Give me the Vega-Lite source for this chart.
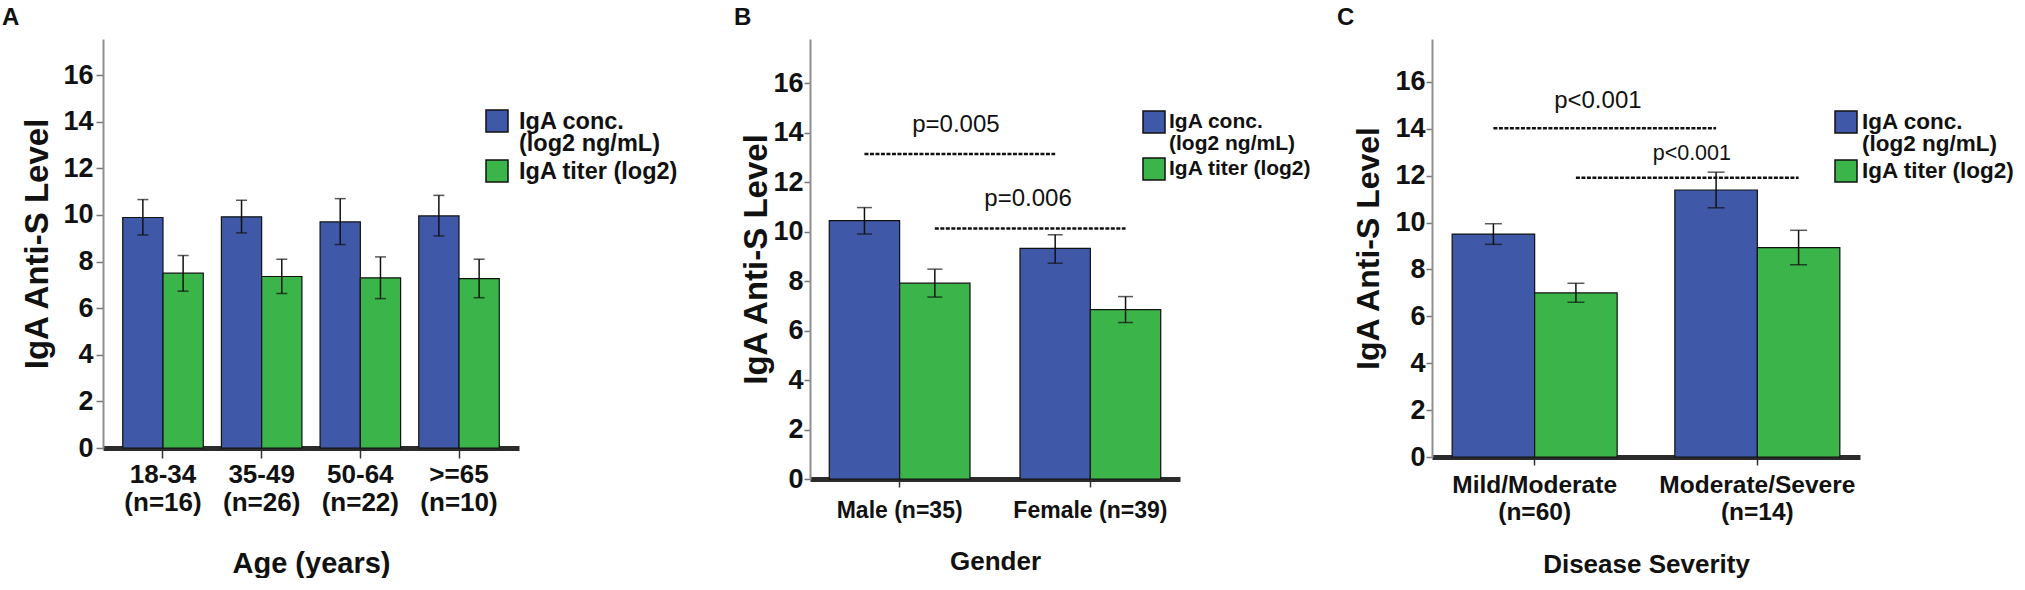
{
  "$schema": "https://vega.github.io/schema/vega-lite/v6.json",
  "background": "white",
  "padding": {"left": 2, "top": 6, "right": 0, "bottom": 0},
  "bounds": "flush",
  "spacing": 252,
  "resolve": {"scale": {"color": "independent", "x": "independent", "y": "independent", "xOffset": "independent"}, "legend": {"color": "independent"}},
  "config": {
    "view": {"stroke": null},
    "font": "Liberation Sans",
    "axis": {"grid": false, "labelFont": "Liberation Sans", "labelFontWeight": "bold", "labelColor": "#111", "titleFont": "Liberation Sans", "titleFontWeight": "bold", "titleColor": "#111", "labelLimit": 400}
  },
  "datasets": {
    "barsA": [
      {"group": "18-34 (n=16)", "series": "IgA conc. (log2 ng/mL)", "value": 9.89, "lo": 9.14, "hi": 10.66},
      {"group": "18-34 (n=16)", "series": "IgA titer (log2)", "value": 7.50, "lo": 6.73, "hi": 8.26},
      {"group": "35-49 (n=26)", "series": "IgA conc. (log2 ng/mL)", "value": 9.92, "lo": 9.23, "hi": 10.63},
      {"group": "35-49 (n=26)", "series": "IgA titer (log2)", "value": 7.36, "lo": 6.63, "hi": 8.10},
      {"group": "50-64 (n=22)", "series": "IgA conc. (log2 ng/mL)", "value": 9.70, "lo": 8.73, "hi": 10.70},
      {"group": "50-64 (n=22)", "series": "IgA titer (log2)", "value": 7.30, "lo": 6.41, "hi": 8.20},
      {"group": ">=65 (n=10)", "series": "IgA conc. (log2 ng/mL)", "value": 9.96, "lo": 9.10, "hi": 10.84},
      {"group": ">=65 (n=10)", "series": "IgA titer (log2)", "value": 7.27, "lo": 6.45, "hi": 8.10}
    ],
    "barsB": [
      {"group": "Male (n=35)", "series": "IgA conc. (log2 ng/mL)", "value": 10.45, "lo": 9.91, "hi": 10.98},
      {"group": "Male (n=35)", "series": "IgA titer (log2)", "value": 7.92, "lo": 7.36, "hi": 8.49},
      {"group": "Female (n=39)", "series": "IgA conc. (log2 ng/mL)", "value": 9.33, "lo": 8.73, "hi": 9.88},
      {"group": "Female (n=39)", "series": "IgA titer (log2)", "value": 6.85, "lo": 6.33, "hi": 7.38}
    ],
    "linesB": [
      {"line": "p1", "group": "Male (n=35)", "series": "IgA conc. (log2 ng/mL)", "y": 13.15},
      {"line": "p1", "group": "Female (n=39)", "series": "IgA conc. (log2 ng/mL)", "y": 13.15},
      {"line": "p2", "group": "Male (n=35)", "series": "IgA titer (log2)", "y": 10.13},
      {"line": "p2", "group": "Female (n=39)", "series": "IgA titer (log2)", "y": 10.13}
    ],
    "textB": [
      {"id": 1, "label": "p=0.005", "group": "Male (n=35)", "y": 14.33},
      {"id": 2, "label": "p=0.006", "group": "Female (n=39)", "y": 11.33}
    ],
    "barsC": [
      {"group": "Mild/Moderate (n=60)", "series": "IgA conc. (log2 ng/mL)", "value": 9.51, "lo": 9.07, "hi": 9.95},
      {"group": "Mild/Moderate (n=60)", "series": "IgA titer (log2)", "value": 7.00, "lo": 6.60, "hi": 7.41},
      {"group": "Moderate/Severe (n=14)", "series": "IgA conc. (log2 ng/mL)", "value": 11.39, "lo": 10.63, "hi": 12.15},
      {"group": "Moderate/Severe (n=14)", "series": "IgA titer (log2)", "value": 8.93, "lo": 8.20, "hi": 9.67}
    ],
    "linesC": [
      {"line": "p1", "group": "Mild/Moderate (n=60)", "series": "IgA conc. (log2 ng/mL)", "y": 14.02},
      {"line": "p1", "group": "Moderate/Severe (n=14)", "series": "IgA conc. (log2 ng/mL)", "y": 14.02},
      {"line": "p2", "group": "Mild/Moderate (n=60)", "series": "IgA titer (log2)", "y": 11.91},
      {"line": "p2", "group": "Moderate/Severe (n=14)", "series": "IgA titer (log2)", "y": 11.91}
    ],
    "textC": [
      {"id": 1, "label": "p<0.001", "group": "Mild/Moderate (n=60)", "y": 15.2},
      {"id": 2, "label": "p<0.001", "group": "Moderate/Severe (n=14)", "y": 12.94}
    ]
  },
  "hconcat": [
    {
      "width": 455,
      "height": 409,
      "title": {"text": "A", "anchor": "start", "frame": "group", "dx": -101, "offset": -10, "baseline": "alphabetic", "fontSize": 24, "fontWeight": "bold", "font": "Liberation Sans", "color": "#111"},
      "data": {"name": "barsA"},
      "encoding": {
        "x": {"field": "group", "type": "nominal", "sort": null,
          "scale": {"range": [0, 416], "paddingInner": 0.184, "paddingOuter": 0.2},
          "axis": {"title": "Age (years)", "titleFontSize": 29, "titleY": 115, "titleBaseline": "middle", "labelAngle": 0, "labelFontSize": 26, "labelLineHeight": 28, "labelBaseline": "top", "labelPadding": 3, "tickSize": 10, "tickColor": "#333", "tickWidth": 1.5, "domainColor": "#2b2b2b", "domainWidth": 5, "labelExpr": "split(datum.label, ' ')"}}
      },
      "layer": [
        {
          "mark": {"type": "bar", "stroke": "#111", "strokeWidth": 1.2},
          "encoding": {
            "xOffset": {"field": "series", "type": "nominal", "sort": null},
            "y": {"field": "value", "type": "quantitative", "scale": {"domain": [0, 17.55], "nice": false},
              "axis": {"title": "IgA Anti-S Level", "titleFontSize": 33, "titleX": -66, "titleY": 204.5, "titleAngle": 270, "titleAlign": "center", "titleBaseline": "middle", "values": [0, 2, 4, 6, 8, 10, 12, 14, 16], "labelFontSize": 27, "tickSize": 7, "labelPadding": 3, "tickColor": "#777", "tickWidth": 1.5, "domainColor": "#8f8f8f", "domainWidth": 2}},
            "color": {"field": "series", "type": "nominal",
              "scale": {"domain": ["IgA conc. (log2 ng/mL)", "IgA titer (log2)"], "range": ["#3F58A7", "#3BB54A"]},
              "legend": {"orient": "none", "legendX": 382, "legendY": 70, "title": null, "symbolType": "square", "symbolSize": 484, "symbolStrokeColor": "#111", "symbolStrokeWidth": 1.5, "labelFont": "Liberation Sans", "labelFontSize": 23.5, "labelFontWeight": "bold", "labelColor": "#111", "labelOffset": 10, "labelBaseline": "top", "rowPadding": 1, "padding": 0, "labelLimit": 300,
                "labelExpr": "datum.label == 'IgA conc. (log2 ng/mL)' ? ['IgA conc.', '(log2 ng/mL)'] : datum.label",
                "encode": {"labels": {"update": {"dy": {"value": -11}, "lineHeight": {"value": 22}}}}}}
          }
        },
        {
          "mark": {"type": "rule", "color": "#111", "strokeWidth": 1.5},
          "encoding": {"xOffset": {"field": "series", "type": "nominal", "sort": null}, "y": {"field": "lo", "type": "quantitative"}, "y2": {"field": "hi"}}
        },
        {
          "mark": {"type": "tick", "color": "#111", "thickness": 1.5, "size": 11},
          "encoding": {"xOffset": {"field": "series", "type": "nominal", "sort": null}, "y": {"field": "lo", "type": "quantitative"}}
        },
        {
          "mark": {"type": "tick", "color": "#111", "thickness": 1.5, "size": 11},
          "encoding": {"xOffset": {"field": "series", "type": "nominal", "sort": null}, "y": {"field": "hi", "type": "quantitative"}}
        }
      ]
    },
    {
      "width": 370,
      "height": 440,
      "title": {"text": "B", "anchor": "start", "frame": "group", "dx": -76, "offset": -10, "baseline": "alphabetic", "fontSize": 24, "fontWeight": "bold", "font": "Liberation Sans", "color": "#111"},
      "data": {"name": "barsB"},
      "encoding": {
        "x": {"field": "group", "type": "nominal", "sort": ["Male (n=35)", "Female (n=39)"],
          "scale": {"paddingInner": 0.262, "paddingOuter": 0.101},
          "axis": {"title": "Gender", "titleFontSize": 26, "titleY": 82, "titleBaseline": "middle", "labelAngle": 0, "labelFontSize": 23, "labelBaseline": "top", "labelPadding": 12, "tickSize": 8, "tickColor": "#333", "tickWidth": 1.5, "domainColor": "#2b2b2b", "domainWidth": 5}}
      },
      "layer": [
        {
          "mark": {"type": "bar", "stroke": "#111", "strokeWidth": 1.2},
          "encoding": {
            "xOffset": {"field": "series", "type": "nominal", "sort": null},
            "y": {"field": "value", "type": "quantitative", "scale": {"domain": [0, 17.8], "nice": false},
              "axis": {"title": "IgA Anti-S Level", "titleFontSize": 33, "titleX": -54, "titleY": 220, "titleAngle": 270, "titleAlign": "center", "titleBaseline": "middle", "values": [0, 2, 4, 6, 8, 10, 12, 14, 16], "labelFontSize": 27, "tickSize": 6, "labelPadding": 1, "tickColor": "#777", "tickWidth": 1.5, "domainColor": "#8f8f8f", "domainWidth": 2}},
            "color": {"field": "series", "type": "nominal",
              "scale": {"domain": ["IgA conc. (log2 ng/mL)", "IgA titer (log2)"], "range": ["#3F58A7", "#3BB54A"]},
              "legend": {"orient": "none", "legendX": 332, "legendY": 71, "title": null, "symbolType": "square", "symbolSize": 484, "symbolStrokeColor": "#111", "symbolStrokeWidth": 1.5, "labelFont": "Liberation Sans", "labelFontSize": 21, "labelFontWeight": "bold", "labelColor": "#111", "labelOffset": 3, "labelBaseline": "top", "rowPadding": 1, "padding": 0, "labelLimit": 300,
                "labelExpr": "datum.label == 'IgA conc. (log2 ng/mL)' ? ['IgA conc.', '(log2 ng/mL)'] : datum.label",
                "encode": {"labels": {"update": {"dy": {"value": -11}, "lineHeight": {"value": 22}}}}}}
          }
        },
        {
          "mark": {"type": "rule", "color": "#111", "strokeWidth": 1.5},
          "encoding": {"xOffset": {"field": "series", "type": "nominal", "sort": null}, "y": {"field": "lo", "type": "quantitative"}, "y2": {"field": "hi"}}
        },
        {
          "mark": {"type": "tick", "color": "#111", "thickness": 1.5, "size": 15},
          "encoding": {"xOffset": {"field": "series", "type": "nominal", "sort": null}, "y": {"field": "lo", "type": "quantitative"}}
        },
        {
          "mark": {"type": "tick", "color": "#111", "thickness": 1.5, "size": 15},
          "encoding": {"xOffset": {"field": "series", "type": "nominal", "sort": null}, "y": {"field": "hi", "type": "quantitative"}}
        },
        {
          "data": {"name": "linesB"},
          "mark": {"type": "line", "color": "#111", "strokeWidth": 2.5, "strokeDash": [4, 1.5]},
          "encoding": {"xOffset": {"field": "series", "type": "nominal", "sort": null}, "y": {"field": "y", "type": "quantitative"}, "detail": {"field": "line"}}
        },
        {
          "data": {"name": "textB"},
          "transform": [{"filter": "datum.id == 1"}],
          "mark": {"type": "text", "fontSize": 24, "font": "Liberation Sans", "color": "#111", "baseline": "middle"},
          "encoding": {"x": {"field": "group", "type": "nominal", "bandPosition": 0.9}, "y": {"field": "y", "type": "quantitative"}, "text": {"field": "label"}}
        },
        {
          "data": {"name": "textB"},
          "transform": [{"filter": "datum.id == 2"}],
          "mark": {"type": "text", "fontSize": 24, "font": "Liberation Sans", "color": "#111", "baseline": "middle"},
          "encoding": {"x": {"field": "group", "type": "nominal", "bandPosition": 0.057}, "y": {"field": "y", "type": "quantitative"}, "text": {"field": "label"}}
        }
      ]
    },
    {
      "width": 428,
      "height": 418,
      "title": {"text": "C", "anchor": "start", "frame": "group", "dx": -95, "offset": -10, "baseline": "alphabetic", "fontSize": 24, "fontWeight": "bold", "font": "Liberation Sans", "color": "#111"},
      "data": {"name": "barsC"},
      "encoding": {
        "x": {"field": "group", "type": "nominal", "sort": null,
          "scale": {"paddingInner": 0.259, "paddingOuter": 0.0905},
          "axis": {"title": "Disease Severity", "titleFontSize": 26, "titleY": 107.5, "titleBaseline": "middle", "labelAngle": 0, "labelFontSize": 24.5, "labelLineHeight": 27, "labelBaseline": "top", "labelPadding": 8, "tickSize": 8, "tickColor": "#333", "tickWidth": 1.5, "domainColor": "#2b2b2b", "domainWidth": 5, "labelExpr": "split(datum.label, ' ')"}}
      },
      "layer": [
        {
          "mark": {"type": "bar", "stroke": "#111", "strokeWidth": 1.2},
          "encoding": {
            "xOffset": {"field": "series", "type": "nominal", "sort": null},
            "y": {"field": "value", "type": "quantitative", "scale": {"domain": [0, 17.83], "nice": false},
              "axis": {"title": "IgA Anti-S Level", "titleFontSize": 32, "titleX": -64, "titleY": 209, "titleAngle": 270, "titleAlign": "center", "titleBaseline": "middle", "values": [0, 2, 4, 6, 8, 10, 12, 14, 16], "labelFontSize": 27, "tickSize": 6, "labelPadding": 1, "tickColor": "#777", "tickWidth": 1.5, "domainColor": "#8f8f8f", "domainWidth": 2}},
            "color": {"field": "series", "type": "nominal",
              "scale": {"domain": ["IgA conc. (log2 ng/mL)", "IgA titer (log2)"], "range": ["#3F58A7", "#3BB54A"]},
              "legend": {"orient": "none", "legendX": 402, "legendY": 71, "title": null, "symbolType": "square", "symbolSize": 484, "symbolStrokeColor": "#111", "symbolStrokeWidth": 1.5, "labelFont": "Liberation Sans", "labelFontSize": 22.5, "labelFontWeight": "bold", "labelColor": "#111", "labelOffset": 4, "labelBaseline": "top", "rowPadding": 1, "padding": 0, "labelLimit": 300,
                "labelExpr": "datum.label == 'IgA conc. (log2 ng/mL)' ? ['IgA conc.', '(log2 ng/mL)'] : datum.label",
                "encode": {"labels": {"update": {"dy": {"value": -11}, "lineHeight": {"value": 22}}}}}}
          }
        },
        {
          "mark": {"type": "rule", "color": "#111", "strokeWidth": 1.5},
          "encoding": {"xOffset": {"field": "series", "type": "nominal", "sort": null}, "y": {"field": "lo", "type": "quantitative"}, "y2": {"field": "hi"}}
        },
        {
          "mark": {"type": "tick", "color": "#111", "thickness": 1.5, "size": 17},
          "encoding": {"xOffset": {"field": "series", "type": "nominal", "sort": null}, "y": {"field": "lo", "type": "quantitative"}}
        },
        {
          "mark": {"type": "tick", "color": "#111", "thickness": 1.5, "size": 17},
          "encoding": {"xOffset": {"field": "series", "type": "nominal", "sort": null}, "y": {"field": "hi", "type": "quantitative"}}
        },
        {
          "data": {"name": "linesC"},
          "mark": {"type": "line", "color": "#111", "strokeWidth": 2.5, "strokeDash": [4, 1.5]},
          "encoding": {"xOffset": {"field": "series", "type": "nominal", "sort": null}, "y": {"field": "y", "type": "quantitative"}, "detail": {"field": "line"}}
        },
        {
          "data": {"name": "textC"},
          "transform": [{"filter": "datum.id == 1"}],
          "mark": {"type": "text", "fontSize": 24, "font": "Liberation Sans", "color": "#111", "baseline": "middle"},
          "encoding": {"x": {"field": "group", "type": "nominal", "bandPosition": 0.883}, "y": {"field": "y", "type": "quantitative"}, "text": {"field": "label"}}
        },
        {
          "data": {"name": "textC"},
          "transform": [{"filter": "datum.id == 2"}],
          "mark": {"type": "text", "fontSize": 21.5, "font": "Liberation Sans", "color": "#111", "baseline": "middle"},
          "encoding": {"x": {"field": "group", "type": "nominal", "bandPosition": 0.103}, "y": {"field": "y", "type": "quantitative"}, "text": {"field": "label"}}
        }
      ]
    }
  ]
}
